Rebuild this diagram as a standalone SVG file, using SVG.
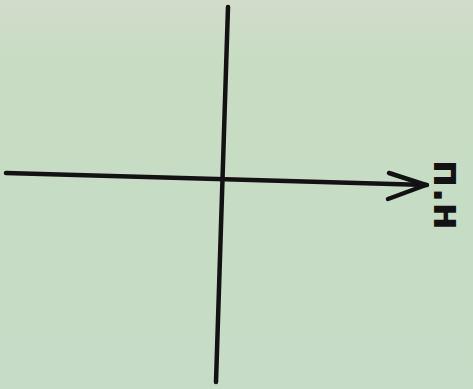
<svg xmlns="http://www.w3.org/2000/svg" width="473" height="389" viewBox="0 0 473 389">
<defs>
<linearGradient id="bg" x1="0" y1="0" x2="0" y2="1">
<stop offset="0" stop-color="#d2dccb"/>
<stop offset="0.15" stop-color="#c8dcc3"/>
<stop offset="1" stop-color="#c6dcc6"/>
</linearGradient>
<style>
.ax{fill:none;stroke:#121212;stroke-width:4.5;stroke-linecap:round;stroke-linejoin:round}
.lbl{font-family:"DejaVu Sans","Liberation Sans",sans-serif;font-weight:bold;font-size:40px;fill:#121212}
</style>
</defs>
<rect width="473" height="389" fill="url(#bg)"/>
<g id="connectors">
<path class="ax" d="M228,7 L216,382"/>
<path class="ax" d="M6,173 L427,185"/>
<path class="ax" d="M389,173 L426,185 L388,199"/>
</g>
<g id="label">
<text class="lbl" transform="translate(448,195) rotate(90)" text-anchor="middle" dominant-baseline="central">п.н</text>
</g>
</svg>
